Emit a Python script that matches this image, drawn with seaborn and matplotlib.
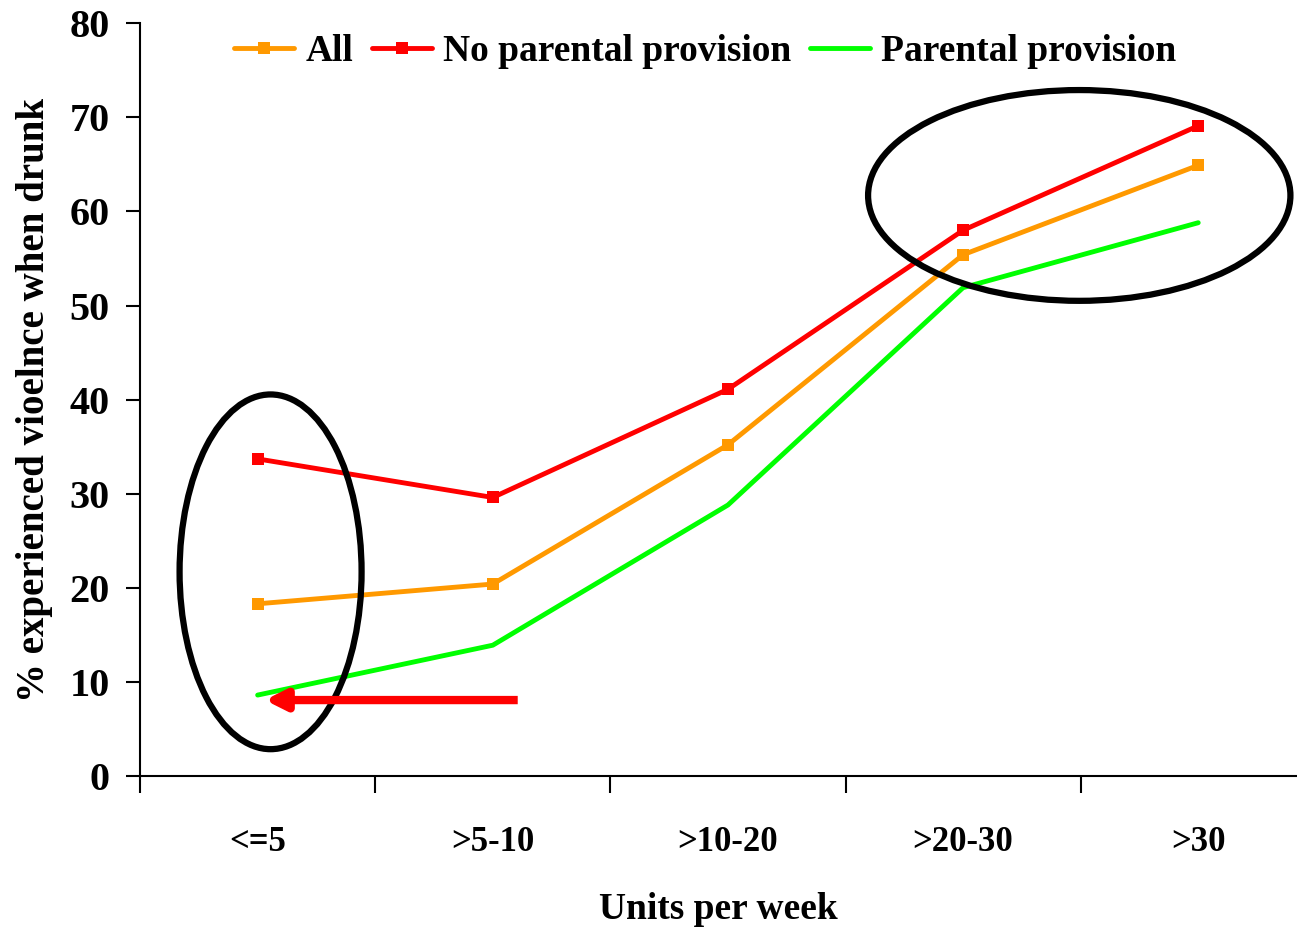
import matplotlib
matplotlib.use("Agg")
import matplotlib.pyplot as plt
import seaborn as sns
import pandas as pd
from matplotlib.patches import Ellipse
from matplotlib.ticker import FixedLocator

categories = ["<=5", ">5-10", ">10-20", ">20-30", ">30"]
all_vals = [18.3, 20.4, 35.2, 55.4, 64.9]
no_parental = [33.7, 29.6, 41.1, 58.0, 69.1]
parental = [8.6, 13.9, 28.8, 51.9, 58.8]
series_names = ["All", "No parental provision", "Parental provision"]
colors = ["#FF9900", "#FF0000", "#00FF00"]
y_ticks = [0, 10, 20, 30, 40, 50, 60, 70, 80]

sns.set_theme(style="white")
plt.rcParams['font.family'] = ['Liberation Serif', 'DejaVu Serif']
plt.rcParams['font.weight'] = 'bold'
plt.rcParams['text.color'] = 'black'
plt.rcParams['axes.labelcolor'] = 'black'
plt.rcParams['xtick.color'] = 'black'
plt.rcParams['ytick.color'] = 'black'

fig = plt.figure(figsize=(12.97, 9.30), dpi=100)
ax = fig.add_axes([0.108, 0.1656, 0.892, 0.8094])

df = pd.DataFrame({
    "cat": categories * 3,
    "val": all_vals + no_parental + parental,
    "series": sum([[s] * len(categories) for s in series_names], []),
})

for name, col in zip(series_names, colors):
    sub = df[df["series"] == name]
    marker = "s" if name != "Parental provision" else None
    sns.lineplot(data=sub, x="cat", y="val", ax=ax, color=col, linewidth=3.5,
                 marker=marker, markersize=9, markeredgewidth=0,
                 label=name, sort=False, solid_capstyle="round")

ax.set_xlim(-0.5, 4.42)
ax.set_ylim(0, 80)
ax.set_yticks(y_ticks)
ax.set_yticklabels([str(t) for t in y_ticks], fontsize=29, fontweight='bold')
ax.set_xticks(range(len(categories)))
ax.set_xticklabels(categories, fontsize=25, fontweight='bold')
ax.tick_params(axis='x', which='major', length=0, pad=36)
ax.xaxis.set_minor_locator(FixedLocator([-0.5, 0.5, 1.5, 2.5, 3.5]))
ax.tick_params(axis='x', which='minor', length=12, width=1.5, direction='out', color='black', bottom=True)
ax.tick_params(axis='y', length=10, width=1.5, direction='out', color='black', left=True, pad=12)

for s in ["top", "right"]:
    ax.spines[s].set_visible(False)
for s in ["left", "bottom"]:
    ax.spines[s].set_color("black")
    ax.spines[s].set_linewidth(1.5)

ax.set_xlabel("Units per week", fontsize=27, fontweight='bold', labelpad=24)
ax.set_ylabel("% experienced vioelnce when drunk", fontsize=28, fontweight='bold', labelpad=12)

leg = ax.legend(loc="upper left", bbox_to_anchor=(0.052, 1.03), ncol=3, frameon=False,
                fontsize=27, handlelength=1.6, columnspacing=0.5, handletextpad=0.3)
for t in leg.get_texts():
    t.set_fontweight('bold')
    t.set_color('black')

# annotations
ax.add_patch(Ellipse((0.055, 21.7), 0.774, 37.7, fill=False, edgecolor='black', linewidth=4.5, zorder=5))
ax.add_patch(Ellipse((3.494, 61.7), 1.796, 22.4, fill=False, edgecolor='black', linewidth=4.5, zorder=5))
ax.annotate("", xy=(0.03, 8.07), xytext=(1.106, 8.07),
            arrowprops=dict(arrowstyle="-|>,head_length=1.0,head_width=0.5", color="#FF0000", lw=6,
                            shrinkA=0, shrinkB=0, capstyle="butt"), zorder=6)

fig.savefig("out.png", dpi=100)
